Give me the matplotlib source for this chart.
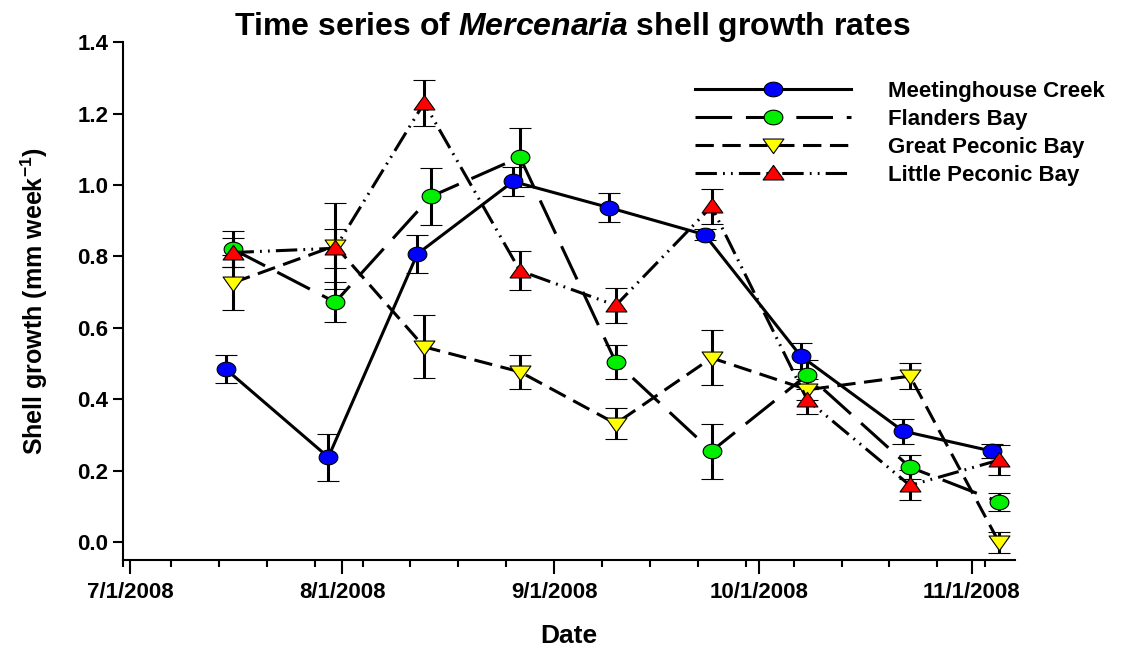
import matplotlib
matplotlib.use('Agg')
import matplotlib.pyplot as plt
import matplotlib.dates as mdates
import numpy as np
from matplotlib.lines import Line2D
from matplotlib.path import Path

plt.rcParams['font.family'] = ['Liberation Sans', 'DejaVu Sans']
plt.rcParams['font.weight'] = 'bold'
plt.rcParams['mathtext.fontset'] = 'custom'
plt.rcParams['mathtext.rm'] = 'Liberation Sans:bold'
plt.rcParams['mathtext.it'] = 'Liberation Sans:bold:italic'
plt.rcParams['mathtext.bf'] = 'Liberation Sans:bold'
plt.rcParams['mathtext.default'] = 'rm'

# sampling dates (Meetinghouse Creek plotted one day earlier than the bays)
mc_dates = ['2008-07-15', '2008-07-30', '2008-08-12', '2008-08-26', '2008-09-09',
            '2008-09-23', '2008-10-07', '2008-10-22', '2008-11-04']
fb_dates = ['2008-07-16', '2008-07-31', '2008-08-14', '2008-08-27', '2008-09-10',
            '2008-09-24', '2008-10-08', '2008-10-23', '2008-11-05']
gp_dates = ['2008-07-16', '2008-07-31', '2008-08-13', '2008-08-27', '2008-09-10',
            '2008-09-24', '2008-10-08', '2008-10-23', '2008-11-05']
lp_dates = ['2008-07-16', '2008-07-31', '2008-08-13', '2008-08-27', '2008-09-10',
            '2008-09-24', '2008-10-08', '2008-10-23', '2008-11-05']

mc_growth = [0.485, 0.238, 0.807, 1.010, 0.937, 0.861, 0.522, 0.311, 0.255]
mc_err = [0.040, 0.066, 0.054, 0.040, 0.040, 0.015, 0.036, 0.035, 0.020]
fb_growth = [0.821, 0.672, 0.968, 1.078, 0.504, 0.255, 0.469, 0.210, 0.113]
fb_err = [0.050, 0.056, 0.080, 0.083, 0.048, 0.077, 0.040, 0.033, 0.025]
gp_growth = [0.726, 0.830, 0.547, 0.477, 0.332, 0.516, 0.427, 0.465, 0.000]
gp_err = [0.077, 0.120, 0.088, 0.047, 0.043, 0.077, 0.030, 0.036, 0.030]
lp_growth = [0.811, 0.823, 1.230, 0.760, 0.663, 0.940, 0.398, 0.159, 0.230]
lp_err = [0.040, 0.055, 0.065, 0.055, 0.050, 0.050, 0.040, 0.042, 0.043]

# slightly flattened marker shapes, like the original export
t = np.linspace(0, 2 * np.pi, 60)
ellipse = Path(np.column_stack([np.cos(t), 0.78 * np.sin(t)]), closed=True)
tri_up = Path([(-1, -0.62), (1, -0.62), (0, 0.78), (-1, -0.62)], closed=True)
tri_down = Path([(-1, 0.62), (1, 0.62), (0, -0.78), (-1, 0.62)], closed=True)

series = [
    ('Meetinghouse Creek', mc_dates, mc_growth, mc_err, '-', ellipse, 'blue', 13.5),
    ('Flanders Bay', fb_dates, fb_growth, fb_err, (0, (12, 4.5)), ellipse, '#00ee00', 13.5),
    ('Great Peconic Bay', gp_dates, gp_growth, gp_err, (0, (6, 2.8)), tri_down, 'yellow', 15),
    ('Little Peconic Bay', lp_dates, lp_growth, lp_err, (0, (7, 2, 0.6, 2, 0.6, 2)), tri_up, 'red', 15),
]

fig = plt.figure(figsize=(11.34, 6.49), dpi=100)
ax = fig.add_axes([0.1085, 0.137, 0.7865, 0.798])

handles = []
for name, d, y, e, ls, mk, col, ms in series:
    x = np.array(d, dtype='datetime64[D]')
    ax.errorbar(x, y, yerr=e, color='black', lw=2.2, ls=ls, marker=mk, ms=ms,
                mfc=col, mec='black', mew=0.8, ecolor='black', elinewidth=2.2,
                capsize=8, capthick=2.2)
    handles.append(Line2D([], [], color='black', lw=2.2, ls=ls, marker=mk, ms=ms,
                          mfc=col, mec='black', mew=0.8))

ax.set_ylim(-0.05, 1.4)
ax.set_yticks(np.arange(0, 1.41, 0.2))
ax.yaxis.set_major_formatter(matplotlib.ticker.FormatStrFormatter('%.1f'))
ax.set_xlim(np.datetime64('2008-06-30'), np.datetime64('2008-11-07T08'))
ax.xaxis.set_major_locator(mdates.MonthLocator())
ax.xaxis.set_minor_locator(mdates.WeekdayLocator(byweekday=mdates.MO))
ax.xaxis.set_major_formatter(mdates.DateFormatter('%-m/%-d/%Y'))

ax.spines['top'].set_visible(False)
ax.spines['right'].set_visible(False)
ax.spines['left'].set_linewidth(1.5)
ax.spines['bottom'].set_linewidth(1.5)
ax.tick_params(axis='both', which='major', labelsize=16, width=1.5, length=7)
ax.tick_params(axis='x', which='major', length=10, pad=6)
ax.tick_params(axis='x', which='minor', length=5, width=1.5)

ax.set_xlabel('Date', fontsize=19, fontweight='bold', labelpad=15)
ax.set_ylabel('Shell growth (mm week$^{-1}$)', fontsize=18, fontweight='bold', labelpad=20)
fig.suptitle('Time series of $\\it{Mercenaria}$ shell growth rates',
             fontsize=23, fontweight='bold', x=0.505, y=0.984)

ax.legend(handles, [s[0] for s in series], loc='upper left',
          bbox_to_anchor=(695 / 1134, 1 - 81 / 649), bbox_transform=fig.transFigure,
          frameon=False, handlelength=7.0, handletextpad=1.7, labelspacing=0.31,
          borderpad=0, borderaxespad=0, numpoints=1, prop={'size': 16, 'weight': 'bold'})

fig.savefig('out.png', dpi=100)
